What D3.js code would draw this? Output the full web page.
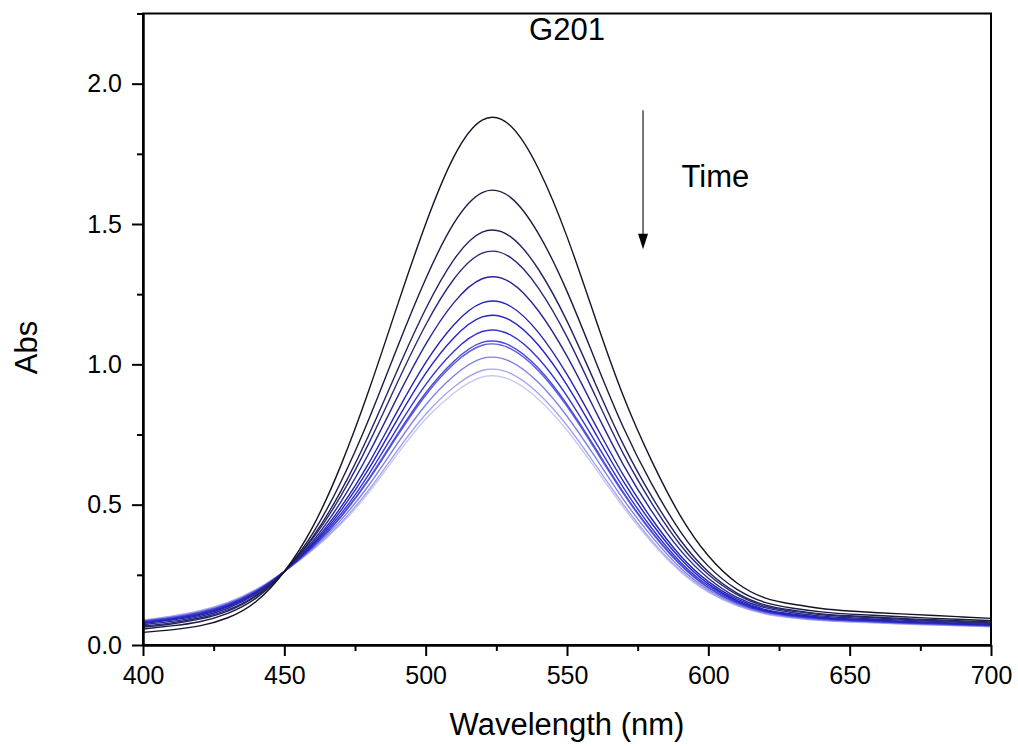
<!DOCTYPE html>
<html>
<head>
<meta charset="utf-8">
<script src="https://cdn.jsdelivr.net/npm/d3@7"></script>
<style>
  body { margin: 0; background: #fff; }
  text { font-family: "Liberation Sans", Arial, sans-serif; fill: #000; }
</style>
</head>
<body>
<svg id="chart" width="1018" height="746"></svg>
<script>
// wavelengths (nm) shared by every spectrum
const wavelengths = [400,410,420,430,440,450,460,470,480,490,500,510,520,530,540,550,560,570,580,590,600,610,620,630,640,650,660,670,680,690,700];

// absorbance spectra, first = earliest (darkest), last = latest (lightest)
const s0  = [0.045,0.054,0.068,0.097,0.155,0.262,0.420,0.640,0.910,1.210,1.500,1.740,1.870,1.850,1.695,1.455,1.165,0.885,0.655,0.462,0.318,0.222,0.168,0.145,0.130,0.121,0.115,0.110,0.105,0.100,0.095];
const s1  = [0.057,0.068,0.083,0.113,0.167,0.262,0.397,0.581,0.807,1.061,1.304,1.503,1.612,1.595,1.464,1.260,1.014,0.774,0.573,0.406,0.281,0.199,0.152,0.131,0.118,0.110,0.105,0.100,0.095,0.091,0.087];
const s2  = [0.064,0.075,0.092,0.121,0.174,0.262,0.384,0.548,0.751,0.979,1.197,1.373,1.471,1.455,1.337,1.154,0.932,0.713,0.529,0.375,0.261,0.186,0.143,0.124,0.111,0.104,0.099,0.094,0.090,0.086,0.082];
const s3  = [0.068,0.079,0.096,0.125,0.177,0.262,0.378,0.531,0.721,0.935,1.140,1.304,1.396,1.381,1.270,1.098,0.888,0.680,0.505,0.358,0.251,0.180,0.138,0.120,0.108,0.101,0.096,0.091,0.087,0.083,0.079];
const s4  = [0.072,0.084,0.101,0.131,0.182,0.262,0.369,0.510,0.685,0.883,1.071,1.220,1.305,1.292,1.189,1.029,0.835,0.641,0.476,0.339,0.238,0.171,0.133,0.115,0.103,0.097,0.092,0.088,0.084,0.080,0.076];
const s5  = [0.076,0.089,0.106,0.136,0.186,0.262,0.362,0.491,0.650,0.833,1.006,1.141,1.219,1.207,1.112,0.964,0.785,0.604,0.449,0.320,0.226,0.164,0.127,0.110,0.099,0.093,0.089,0.084,0.081,0.077,0.074];
const s6  = [0.079,0.092,0.109,0.139,0.188,0.262,0.357,0.479,0.630,0.804,0.968,1.095,1.169,1.157,1.067,0.926,0.755,0.582,0.433,0.309,0.218,0.159,0.124,0.107,0.097,0.091,0.087,0.082,0.079,0.075,0.072];
const s7  = [0.081,0.094,0.112,0.142,0.190,0.262,0.353,0.467,0.610,0.774,0.928,1.047,1.117,1.105,1.020,0.887,0.725,0.560,0.416,0.297,0.211,0.155,0.121,0.105,0.095,0.089,0.085,0.080,0.077,0.074,0.070];
const s8  = [0.083,0.096,0.115,0.145,0.192,0.262,0.349,0.458,0.594,0.751,0.898,1.011,1.078,1.066,0.985,0.857,0.702,0.543,0.404,0.289,0.205,0.151,0.119,0.103,0.093,0.087,0.083,0.079,0.076,0.072,0.069];
const s9  = [0.084,0.097,0.115,0.145,0.193,0.262,0.348,0.456,0.590,0.745,0.890,1.002,1.068,1.056,0.976,0.850,0.696,0.539,0.401,0.287,0.204,0.150,0.118,0.102,0.092,0.087,0.083,0.078,0.075,0.072,0.069];
const s10 = [0.086,0.099,0.118,0.148,0.195,0.262,0.344,0.445,0.571,0.718,0.855,0.959,1.021,1.010,0.934,0.815,0.669,0.518,0.386,0.276,0.197,0.146,0.115,0.100,0.090,0.085,0.081,0.077,0.073,0.070,0.067];
const s11 = [0.088,0.102,0.121,0.151,0.197,0.262,0.340,0.435,0.554,0.693,0.822,0.919,0.978,0.968,0.895,0.782,0.643,0.500,0.372,0.267,0.191,0.142,0.112,0.097,0.088,0.083,0.079,0.075,0.072,0.069,0.066];
const s12 = [0.089,0.103,0.122,0.152,0.198,0.262,0.338,0.430,0.545,0.680,0.805,0.898,0.955,0.945,0.875,0.765,0.630,0.490,0.365,0.262,0.188,0.140,0.111,0.096,0.087,0.082,0.078,0.074,0.071,0.068,0.065];
const spectra = [s0,s1,s2,s3,s4,s5,s6,s7,s8,s9,s10,s11,s12];

const xMajor = [400,450,500,550,600,650,700];
const xMinor = [425,475,525,575,625,675];
const yMajor = [0,0.5,1.0,1.5,2.0];
const yMinor = [0.25,0.75,1.25,1.75,2.25];

const margin = {top: 13.5, right: 27, bottom: 101, left: 143},
      width = 1018 - margin.left - margin.right,
      height = 746 - margin.top - margin.bottom;

const svg = d3.select("#chart");
const g = svg.append("g")
    .attr("transform", "translate(" + margin.left + "," + margin.top + ")");

const x = d3.scaleLinear().domain([400, 700]).range([0, width]);
const y = d3.scaleLinear().domain([0, 2.25]).range([height, 0]);

// colour ramp: dark navy -> blue -> pale lavender
const ramp = d3.piecewise(d3.interpolateRgb, ["#141428", "#2a2a7a", "#2222c8", "#5c5ce0", "#c9c9f5"]);

const line = d3.line()
    .x((d, i) => x(wavelengths[i]))
    .y(d => y(d))
    .curve(d3.curveNatural);

// draw lightest first so the dark early spectra sit on top
g.append("g").selectAll("path")
    .data(spectra.slice().reverse())
    .join("path")
    .attr("fill", "none")
    .attr("stroke", (d, i) => ramp(1 - i / (spectra.length - 1)))
    .attr("stroke-width", 1.4)
    .attr("d", line);

// frame
g.append("rect")
    .attr("width", width).attr("height", height)
    .attr("fill", "none").attr("stroke", "#000").attr("stroke-width", 2);

// x axis
g.append("g").attr("transform", "translate(0," + height + ")")
    .call(d3.axisBottom(x).tickValues(xMajor).tickFormat(d3.format("d")).tickSize(11).tickSizeOuter(0).tickPadding(10));
g.append("g").attr("transform", "translate(0," + height + ")")
    .call(d3.axisBottom(x).tickValues(xMinor).tickFormat("").tickSize(6).tickSizeOuter(0));

// y axis
g.append("g")
    .call(d3.axisLeft(y).tickValues(yMajor).tickFormat(d3.format(".1f")).tickSize(11).tickSizeOuter(0).tickPadding(10));
g.append("g")
    .call(d3.axisLeft(y).tickValues(yMinor).tickFormat("").tickSize(6).tickSizeOuter(0));

g.selectAll(".domain").attr("stroke-width", 2);
g.selectAll(".tick line").attr("stroke-width", 2);
g.selectAll(".tick text").attr("font-size", 25).attr("font-family", "Liberation Sans, Arial, sans-serif");

// titles
svg.append("text")
    .attr("x", margin.left + width / 2).attr("y", 735)
    .attr("text-anchor", "middle").attr("font-size", 31)
    .text("Wavelength (nm)");
svg.append("text")
    .attr("transform", "translate(37," + (margin.top + y(1.06)) + ") rotate(-90)")
    .attr("text-anchor", "middle").attr("font-size", 31)
    .text("Abs");
svg.append("text")
    .attr("x", margin.left + width / 2).attr("y", 40)
    .attr("text-anchor", "middle").attr("font-size", 31)
    .text("G201");

// time arrow annotation
const ax = x(576.9);
g.append("line")
    .attr("x1", ax).attr("x2", ax)
    .attr("y1", y(1.905)).attr("y2", y(1.46))
    .attr("stroke", "#555").attr("stroke-width", 1.6);
g.append("path")
    .attr("d", "M" + (ax - 5) + "," + y(1.465) + "L" + (ax + 5) + "," + y(1.465) + "L" + ax + "," + y(1.41) + "Z")
    .attr("fill", "#000");
g.append("text")
    .attr("x", x(590.5)).attr("y", y(1.633))
    .attr("font-size", 31)
    .text("Time");
</script>
</body>
</html>
